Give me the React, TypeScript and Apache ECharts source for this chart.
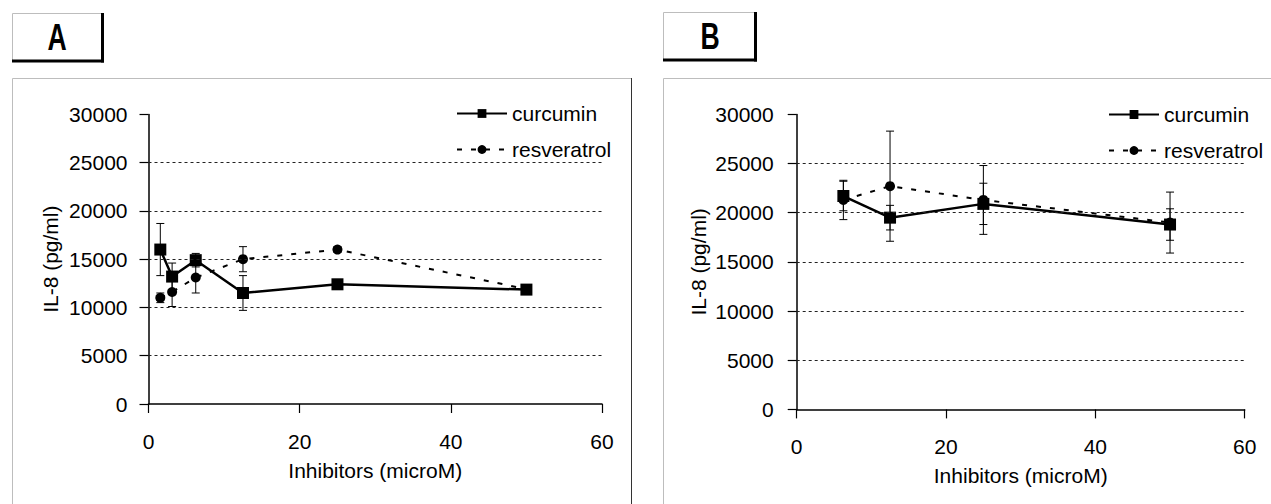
import React, { useEffect, useRef } from "react";
import * as echarts from "echarts";

// ---- data ----
const xA = [1.5625, 3.125, 6.25, 12.5, 25, 50];
const curcuminA = [16000, 13200, 14900, 11500, 12400, 11850];
const curcuminAErr = [2700, 1400, 700, 1800, 500, 300];
const resveratrolA = [11000, 11600, 13100, 15000, 16000, 11900];
const resveratrolAErr = [500, 1500, 1600, 1300, 300, 300];

const xB = [6.25, 12.5, 25, 50];
const curcuminB = [21700, 19500, 20900, 18800];
const curcuminBErr = [1500, 1250, 2100, 1600];
const resveratrolB = [21300, 22700, 21300, 19000];
const resveratrolBErr = [2000, 5600, 3500, 3100];

const gridLevels = [5000, 10000, 15000, 20000, 25000];
const seriesNames = ["curcumin", "resveratrol"];
const panelLabels = ["A", "B"];
const xAxisTitle = "Inhibitors (microM)";
const yAxisTitle = "IL-8 (pg/ml)";

const FONT = "'Liberation Sans', Arial, sans-serif";

function pairs(xs: number[], ys: number[]) {
  return xs.map((x, i) => [x, ys[i]]);
}
function triples(xs: number[], ys: number[], es: number[]) {
  return xs.map((x, i) => [x, ys[i], es[i]]);
}

function errRender(params: any, api: any) {
  const x = api.value(0);
  const y = api.value(1);
  const e = api.value(2);
  const t = api.coord([x, y + e]);
  const b = api.coord([x, y - e]);
  const w = 4;
  const st = { stroke: "#000", lineWidth: 1 };
  return {
    type: "group",
    children: [
      { type: "line", shape: { x1: t[0], y1: t[1], x2: b[0], y2: b[1] }, style: st },
      { type: "line", shape: { x1: t[0] - w, y1: t[1], x2: t[0] + w, y2: t[1] }, style: st },
      { type: "line", shape: { x1: b[0] - w, y1: b[1], x2: b[0] + w, y2: b[1] }, style: st },
    ],
  };
}

export default function App() {
  const ref = useRef<HTMLDivElement>(null);
  useEffect(() => {
    if (!ref.current) return;
    const chart = echarts.init(ref.current, null, { renderer: "svg" });

    const grids = [
      { left: 148.5, top: 114.4, width: 453.5, height: 289.6 },
      { left: 796.7, top: 114.4, width: 448, height: 295 },
    ];

    const axisText = { color: "#000", fontSize: 21, fontFamily: FONT };

    const xAxes = [0, 1].map((i) => ({
      type: "value",
      gridIndex: i,
      min: 0,
      max: 60,
      interval: 20,
      axisLine: { show: true, lineStyle: { color: "#000", width: 1.5 } },
      axisTick: { show: true, inside: false, length: 9, lineStyle: { color: "#000", width: 1.2 } },
      axisLabel: { ...axisText, margin: 27, formatter: (v: number) => String(v) },
      splitLine: { show: false },
      name: xAxisTitle,
      nameLocation: "middle",
      nameGap: 56,
      nameTextStyle: { ...axisText },
    }));

    const yAxes = [0, 1].map((i) => ({
      type: "value",
      gridIndex: i,
      min: 0,
      max: 30000,
      interval: 5000,
      axisLine: { show: true, lineStyle: { color: "#000", width: 1.5 } },
      axisTick: { show: true, inside: false, length: 9, lineStyle: { color: "#000", width: 1.2 } },
      axisLabel: { ...axisText, margin: i === 0 ? 21 : 23, formatter: (v: number) => String(v) },
      splitLine: { show: false },
      name: yAxisTitle,
      nameLocation: "middle",
      nameRotate: 90,
      nameGap: 88,
      nameTextStyle: { ...axisText },
    }));

    const gridMark = {
      silent: true,
      symbol: ["none", "none"],
      label: { show: false },
      lineStyle: { color: "#222", width: 1, type: [3, 3] },
      data: gridLevels.map((v) => ({ yAxis: v })),
    };

    const panels = [
      { c: curcuminA, ce: curcuminAErr, r: resveratrolA, re: resveratrolAErr, x: xA },
      { c: curcuminB, ce: curcuminBErr, r: resveratrolB, re: resveratrolBErr, x: xB },
    ];

    const series: any[] = [];
    panels.forEach((p, i) => {
      series.push({
        type: "custom",
        xAxisIndex: i,
        yAxisIndex: i,
        renderItem: errRender,
        encode: { x: 0, y: 1 },
        data: triples(p.x, p.r, p.re),
        z: 1,
        silent: true,
      });
      series.push({
        type: "custom",
        xAxisIndex: i,
        yAxisIndex: i,
        renderItem: errRender,
        encode: { x: 0, y: 1 },
        data: triples(p.x, p.c, p.ce),
        z: 1,
        silent: true,
      });
      series.push({
        name: seriesNames[1],
        type: "line",
        xAxisIndex: i,
        yAxisIndex: i,
        data: pairs(p.x, p.r),
        symbol: "circle",
        symbolSize: 10,
        itemStyle: { color: "#000" },
        lineStyle: { color: "#000", width: 2, type: [5, 9] },
        markLine: gridMark,
        z: 2,
      });
      series.push({
        name: seriesNames[0],
        type: "line",
        xAxisIndex: i,
        yAxisIndex: i,
        data: pairs(p.x, p.c),
        symbol: "rect",
        symbolSize: 12,
        itemStyle: { color: "#000" },
        lineStyle: { color: "#000", width: 2.5, type: "solid" },
        z: 3,
      });
    });

    const legends = [
      { left: 451, top: 98 },
      { left: 1103, top: 99 },
    ].map((pos) => ({
      ...pos,
      orient: "vertical",
      data: seriesNames,
      itemWidth: 50,
      itemHeight: 11,
      itemGap: 15,
      selectedMode: false,
      textStyle: { color: "#000", fontSize: 21, fontFamily: FONT },
    }));

    const frameGray = "#bdbdbd";
    const graphic: any[] = [
      { type: "polyline", shape: { points: [[12.5, 510], [12.5, 78.5], [631.5, 78.5]] }, style: { stroke: frameGray, lineWidth: 1, fill: "none" } },
      { type: "line", shape: { x1: 631.5, y1: 78, x2: 631.5, y2: 510 }, style: { stroke: "#333", lineWidth: 1 } },
      { type: "polyline", shape: { points: [[663.5, 510], [663.5, 78.5], [1280, 78.5]] }, style: { stroke: frameGray, lineWidth: 1, fill: "none" } },
      { type: "rect", shape: { x: 12.5, y: 13.5, width: 89, height: 47 }, style: { fill: "#fff", stroke: frameGray, lineWidth: 1 } },
      { type: "line", shape: { x1: 12, y1: 61, x2: 104, y2: 61 }, style: { stroke: "#000", lineWidth: 3 } },
      { type: "line", shape: { x1: 102.5, y1: 13, x2: 102.5, y2: 62.5 }, style: { stroke: "#000", lineWidth: 3 } },
      { type: "text", x: 57, y: 37, scaleX: 0.72, style: { text: panelLabels[0], font: `900 37px ${FONT}`, fill: "#000", align: "center", verticalAlign: "middle" } },
      { type: "rect", shape: { x: 663.5, y: 12.5, width: 91, height: 47 }, style: { fill: "#fff", stroke: frameGray, lineWidth: 1 } },
      { type: "line", shape: { x1: 663, y1: 60, x2: 757, y2: 60 }, style: { stroke: "#000", lineWidth: 3 } },
      { type: "line", shape: { x1: 755.5, y1: 12, x2: 755.5, y2: 61.5 }, style: { stroke: "#000", lineWidth: 3 } },
      { type: "text", x: 710, y: 36.5, scaleX: 0.72, style: { text: panelLabels[1], font: `900 37px ${FONT}`, fill: "#000", align: "center", verticalAlign: "middle" } },
    ];

    chart.setOption({
      animation: false,
      backgroundColor: "#fff",
      textStyle: { fontFamily: FONT },
      grid: grids,
      xAxis: xAxes,
      yAxis: yAxes,
      legend: legends,
      series,
      graphic,
    });
    return () => chart.dispose();
  }, []);
  return (
    <div
      ref={ref}
      style={{ position: "fixed", left: 0, top: 0, width: 1271, height: 504, background: "#fff" }}
    />
  );
}
